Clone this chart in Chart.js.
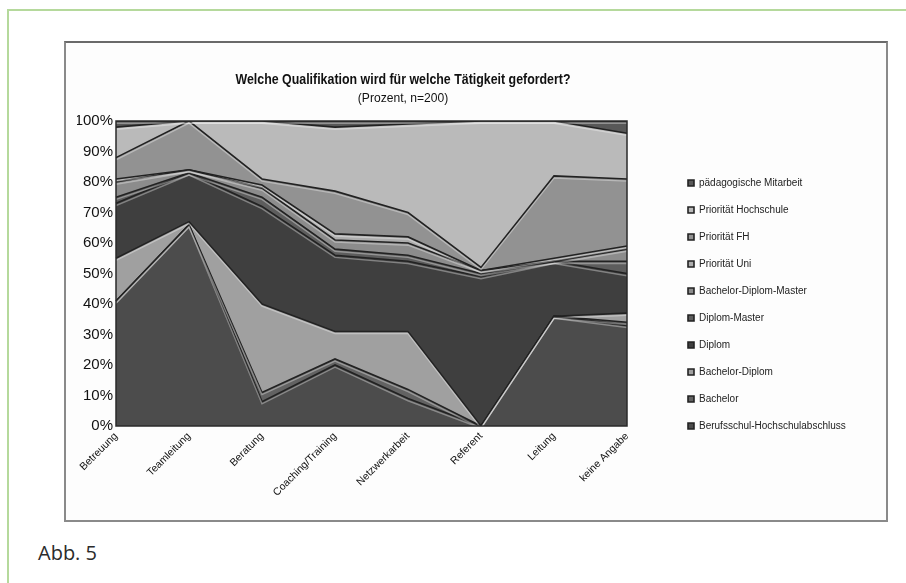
<!DOCTYPE html>
<html>
<head>
<meta charset="utf-8">
<script src="https://cdn.jsdelivr.net/npm/chart.js@4.4.1/dist/chart.umd.min.js"></script>
<style>
  body { margin: 0; background: #fff; width: 906px; height: 583px; overflow: hidden; position: relative; }
  #frame { position: absolute; left: 7px; top: 9px; width: 920px; height: 600px; border-top: 2px solid #b5d99c; border-left: 2px solid #b5d99c; }
  #box { position: absolute; left: 64px; top: 41px; width: 820px; height: 477px; border: 2px solid #8a8a8a; border-top-color: #6a6a6a; background: #fdfdfd; }
  #box canvas { display: block; }
  #caption { position: absolute; left: 38px; top: 543px; font-family: 'Open Sans', sans-serif; font-size: 20px; line-height: 20px; color: #2b2b2b; }
</style>
</head>
<body>
<div id="frame"></div>
<div id="box"><canvas id="myChart" width="820" height="477"></canvas></div>
<div id="caption">Abb. 5</div>
<script>
// categories
const categories = ['Betreuung', 'Teamleitung', 'Beratung', 'Coaching/Training', 'Netzwerkarbeit', 'Referent', 'Leitung', 'keine Angabe'];

// series values in percent, bottom of the stack first
const berufsschul          = [41, 66,  8, 20,  9,  0, 36, 33];
const bachelor             = [ 0,  0,  3,  2,  3,  0,  0,  1];
const bachelorDiplom       = [14,  1, 29,  9, 19,  0,  0,  3];
const diplom               = [18, 16, 32, 25, 23, 49, 18, 13];
const diplomMaster         = [ 2,  0,  3,  2,  2,  1,  0,  4];
const bachelorDiplomMaster = [ 5,  1,  3,  3,  4,  1,  0,  4];
const prioUni              = [ 1,  0,  1,  2,  2,  0,  1,  1];
const prioFH               = [ 7, 16,  2, 14,  8,  1, 27, 22];
const prioHochschule       = [10,  0, 19, 21, 29, 48, 18, 15];
const paedMitarbeit        = [ 2,  0,  0,  2,  1,  0,  0,  4];

const yTicks = [0, 10, 20, 30, 40, 50, 60, 70, 80, 90, 100];

const titleText = 'Welche Qualifikation wird für welche Tätigkeit gefordert?';
const subtitleText = '(Prozent, n=200)';

const series = [
    { label: 'Berufsschul-Hochschulabschluss', data: berufsschul, color: '#4c4c4c' },
    { label: 'Bachelor', data: bachelor, color: '#626262' },
    { label: 'Bachelor-Diplom', data: bachelorDiplom, color: '#a0a0a0' },
    { label: 'Diplom', data: diplom, color: '#3f3f3f' },
    { label: 'Diplom-Master', data: diplomMaster, color: '#5d5d5d' },
    { label: 'Bachelor-Diplom-Master', data: bachelorDiplomMaster, color: '#8c8c8c' },
    { label: 'Priorität Uni', data: prioUni, color: '#adadad' },
    { label: 'Priorität FH', data: prioFH, color: '#929292' },
    { label: 'Priorität Hochschule', data: prioHochschule, color: '#bababa' },
    { label: 'pädagogische Mitarbeit', data: paedMitarbeit, color: '#585858' }
];

const fontFamily = '"Liberation Sans", Arial, sans-serif';

// title drawn over the plot, a bit condensed like the original
const titlePlugin = {
    id: 'topTitle',
    afterDraw(chart) {
        const ctx = chart.ctx;
        ctx.save();
        ctx.fillStyle = '#111';
        ctx.textAlign = 'center';
        ctx.textBaseline = 'middle';
        ctx.translate(337, 37);
        ctx.scale(0.885, 1);
        ctx.font = 'bold 14px ' + fontFamily;
        ctx.fillText(titleText, 0, 0);
        ctx.restore();
        ctx.save();
        ctx.fillStyle = '#111';
        ctx.textAlign = 'center';
        ctx.textBaseline = 'middle';
        ctx.translate(337, 55);
        ctx.scale(0.93, 1);
        ctx.font = '13px ' + fontFamily;
        ctx.fillText(subtitleText, 0, 0);
        ctx.restore();
    }
};

// light edge under every boundary (the bevel look) and a dark frame round the plot
const framePlugin = {
    id: 'plotFrame',
    afterDatasetsDraw(chart) {
        const a = chart.chartArea;
        const ctx = chart.ctx;
        ctx.save();
        ctx.beginPath();
        ctx.rect(a.left, a.top, a.right - a.left, a.bottom - a.top);
        ctx.clip();
        ctx.strokeStyle = 'rgba(255,255,255,0.35)';
        ctx.lineWidth = 1.4;
        chart.data.datasets.forEach(function(ds, i) {
            const pts = chart.getDatasetMeta(i).data;
            ctx.beginPath();
            pts.forEach(function(p, j) {
                if (j === 0) ctx.moveTo(p.x, p.y + 2.2);
                else ctx.lineTo(p.x, p.y + 2.2);
            });
            ctx.stroke();
        });
        ctx.restore();
        ctx.save();
        ctx.strokeStyle = '#2a2a2a';
        ctx.lineWidth = 1.5;
        ctx.strokeRect(a.left, a.top, a.right - a.left, a.bottom - a.top);
        ctx.restore();
    }
};

// legend sits a little away from the plot, as in the original
const legendPlugin = {
    id: 'legendPlace',
    afterLayout(chart) {
        const lg = chart.legend;
        lg.left = chart.chartArea.right + 44;
        lg.right = chart.width;
        lg.width = lg.right - lg.left;
        lg.top = 118;
        lg.bottom = 405;
        lg.height = lg.bottom - lg.top;
    }
};

let data = {
    labels: categories,
    datasets: series.map(function(s, i) {
        return {
            label: s.label,
            data: s.data,
            backgroundColor: s.color,
            borderColor: '#222',
            borderWidth: 1.6,
            fill: i === 0 ? 'origin' : '-1',
            pointRadius: 0,
            pointHoverRadius: 0,
            tension: 0
        };
    })
};

let config = {
    type: 'line',
    data,
    options: {
        responsive: false,
        animation: false,
        layout: { padding: { top: 78, bottom: 0, left: 11, right: 129 } },
        scales: {
            x: {
                grid: { display: false, drawTicks: false },
                border: { display: false },
                ticks: {
                    autoSkip: false,
                    minRotation: 45,
                    maxRotation: 45,
                    padding: 4,
                    color: '#111',
                    font: { size: 10.5, family: fontFamily }
                },
                afterFit(scale) { scale.height = 94; }
            },
            y: {
                stacked: true,
                min: 0,
                max: 100,
                grid: { display: false, drawTicks: false },
                border: { display: false },
                afterBuildTicks(scale) { scale.ticks = yTicks.map(v => ({ value: v })); },
                ticks: {
                    padding: 3,
                    color: '#111',
                    font: { size: 15, family: fontFamily },
                    callback: v => v + '%'
                },
                afterFit(scale) { scale.width = 39; }
            }
        },
        plugins: {
            title: { display: false },
            tooltip: { enabled: false },
            legend: {
                position: 'right',
                reverse: true,
                maxWidth: 130,
                labels: {
                    boxWidth: 6,
                    boxHeight: 6,
                    padding: 17,
                    color: '#222',
                    font: { size: 10, family: fontFamily }
                }
            }
        }
    },
    plugins: [titlePlugin, framePlugin, legendPlugin]
};

let myChart = new Chart(document.getElementById('myChart'), config);
</script>
</body>
</html>
